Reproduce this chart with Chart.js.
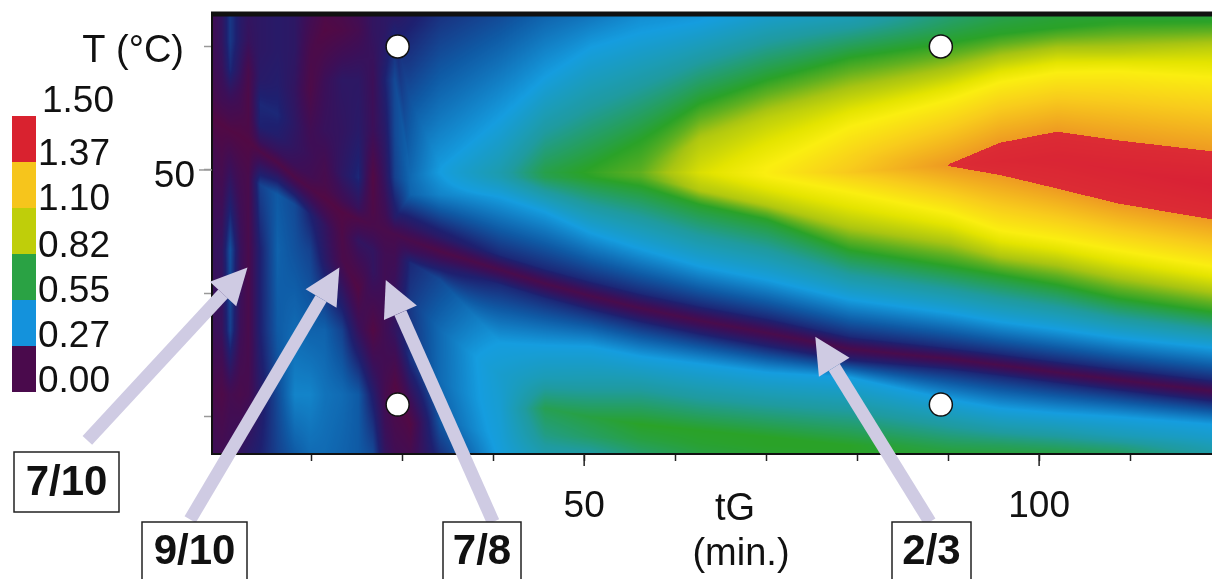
<!DOCTYPE html>
<html>
  <head>
    <title>tG / T resolution map</title>
    <script src="https://cdn.jsdelivr.net/npm/chart.js"></script>
    <style>
      body { margin: 0; background: #fff; }
      canvas { display: block; }
    </style>
  </head>
  <body>
    <canvas id="mapChart" width="1212" height="579"></canvas>

    <script>
      // resolution: one T list and one value list per tG column
      const tGColumns = [9.1, 10.2, 11.1, 12.2, 13.1, 14.4, 16.3, 18.2, 19.9, 21.5, 23.4, 25.2, 26.8, 28.1, 29.2, 30.9,
        34.2, 40.8, 45.7, 50.7, 56.2, 62.7, 70.1, 79.2, 90.2, 95.7, 102, 108.6, 119];

      const knotT = [
        [62.6,60.5,60.5,58.5,58.5,56.9,56.9,56.9,55.7,55.7,55.7,54.9,54.2,54.2,54.2,51.6,43.5,37,31.8,27],
        [62.6,60.5,60.5,58.5,58.5,56.9,56.9,56.9,55.7,55.7,55.7,54.6,53.7,53.7,53.7,51.2,43.5,37,31.8,27],
        [62.6,60.5,60.5,58.1,58.1,56.5,56.5,56.5,55.3,55.3,55.3,54,53.2,53.2,53.2,50.4,43.5,37,31.8,27],
        [62.6,60.5,60.5,58.1,58.1,56.1,56.1,56.1,54.9,54.9,54.9,53.6,52.8,52.8,52.8,49.8,43.5,37,31.8,27],
        [62.6,60.5,60.5,58.1,58.1,56.1,56.1,56.1,54.5,54.5,54.5,53.1,52.3,52.3,52.3,49.4,43.5,37,31.8,27],
        [62.6,59.7,59.7,57.3,57.3,55.3,55.3,55.3,53.6,53.6,53.6,52.3,51.5,51.5,51.5,48.8,43.5,37,31.8,27],
        [62.6,59.7,59.7,56.9,56.9,54.5,54.5,54.5,52.8,52.8,52.8,51.5,50.6,50.6,50.6,48,43.5,37,31.8,27],
        [62.6,59.7,59.7,56.5,56.5,53.6,53.6,53.6,51.8,51.8,51.8,50.4,49.4,49.4,49.4,47.2,43.5,37,31.8,27],
        [62.6,59.7,59.7,56.5,56.5,53.2,53.2,53.2,51.2,51.2,51.2,49.6,48.5,48.5,48.5,46.4,43.5,37,31.8,27],
        [62.6,61.3,61.3,57.3,57.3,53.2,53.2,53.2,50.4,50.4,50.4,48.8,47.7,47.7,47.7,45.5,42.7,37,31.8,27],
        [62.6,61.3,61.3,57.3,57.3,53.2,53.2,53.2,49.6,49.6,49.6,47.6,46.6,46.6,46.6,44.7,42.7,37,31.8,27],
        [62.6,61.3,61.3,57.3,57.3,53.2,53.2,53.2,49.4,49.4,49.4,46.9,46,46,46,44.3,40.3,37,31.8,27],
        [62.6,61.3,61.3,57.3,57.3,53.2,53.2,53.2,49.4,49.4,49.4,46.6,45.5,45.5,45.5,43.5,41.9,37,31.8,27],
        [62.6,61.3,61.3,57.3,57.3,53.2,53.2,53.2,49.4,49.4,49.4,46.4,45.1,45.1,45.1,43.1,40.7,37,31.8,27],
        [62.6,61.3,61.3,57.3,57.3,53.2,53.2,53.2,49.4,49.4,49.4,46.1,44.8,44.8,44.8,42.9,40.3,37,32.6,27],
        [62.6,55.7,49.9,49.8,49.8,49.7,49.6,49.5,49.4,49.3,49.2,48,45.5,44.3,43.5,42.5,39.5,34.6,29.4,27],
        [62.6,50.4,50.3,50.2,50.2,50,49.8,49.7,49.7,49.6,49.5,48,44.6,43.4,42.2,41.1,37,32.9,29.8,27],
        [62.6,54.2,50.2,50.1,50,49.9,49.8,49.7,49.6,49.5,49.4,47.8,43.1,41.9,40.7,36,33.4,30.6,28.5,27],
        [62.6,57.5,50.2,50.1,50,49.9,49.8,49.7,49.6,49.5,49.4,46.6,42,40.8,39.6,35.8,33.2,30.7,28.5,27],
        [62.6,59.9,50.2,50.1,50,49.9,49.8,49.7,49.6,49.5,49.4,44.9,41,39.8,38.6,35.7,32.8,30,28.4,27],
        [62.6,61.1,52.4,50,49.9,49.9,49.8,49.7,49.6,49.5,48.7,43.6,40,38.8,37.6,34.9,32.2,29.4,28.2,27],
        [62.6,62,55.4,52.4,50,49.9,49.8,49.7,49.6,48.4,47.2,42.2,39,37.8,36.6,34.3,31.5,28.9,27.9,27],
        [62.6,62.1,57.3,54.2,50.2,50,49.8,49.6,49.5,47.2,46,41.1,38,36.8,35.6,33.6,31,28.4,27.7,27],
        [62.6,61.8,59.1,55.7,53.5,51.2,49.8,49.2,48.2,45.5,43.5,39.5,36.5,35.5,34.5,33.2,30.5,27.7,27.3,27],
        [62.6,61.5,60.3,57.7,55.7,50.5,50.4,50.3,46.5,44.3,42.2,38.4,35.6,34.7,33.8,31.4,29.4,27.7,27.3,27],
        [62.6,62,61,58.8,57.1,52.2,50.7,49.6,45.1,43.1,41.5,37.7,35.1,34.2,33.3,30.7,29,27.7,27.3,27],
        [62.6,62.1,61.5,59.5,57.9,53.1,50.8,48.5,44.4,42.5,40.7,37.1,34.5,33.6,32.7,30.3,28.8,27.7,27.3,27],
        [62.6,62.3,61.8,59.5,58,52.4,50,47.3,43.5,41.5,39.6,36.4,33.9,33,32.1,30,28.5,27.7,27.3,27],
        [62.6,62.4,61.9,59.9,57.5,51.5,48.8,46,42.2,40.3,38.5,35.6,33,32.1,31.2,29.4,28.3,27.7,27.3,27]
      ];

      const knotRs = [
        [.05,.05,.05,.05,.05,.04,.04,.04,.03,.03,.03,.02,.01,.01,.01,.04,.07,.06,.03,.06],
        [.08,.08,.08,.07,.07,.06,.06,.06,.05,.05,.05,.03,.01,.01,.01,.03,.08,.07,.02,.05],
        [.15,.15,.15,.13,.13,.08,.08,.08,.05,.05,.05,.03,.01,.01,.01,.06,.18,.16,.04,.06],
        [.1,.1,.1,.08,.08,.05,.05,.05,.04,.04,.04,.02,.01,.01,.01,.04,.07,.06,.03,.08],
        [.08,.07,.07,.03,.03,.02,.02,.02,.02,.02,.02,.02,.01,.01,.01,.03,.03,.03,.04,.1],
        [.09,.09,.09,.1,.1,.13,.13,.13,.12,.12,.12,.07,.02,.02,.02,.16,.12,.12,.1,.12],
        [.1,.1,.1,.11,.11,.13,.13,.13,.11,.11,.11,.07,.02,.02,.02,.19,.2,.19,.17,.16],
        [.09,.09,.09,.08,.08,.09,.09,.09,.08,.08,.08,.06,.02,.02,.02,.17,.18,.21,.24,.19],
        [.05,.03,.03,.02,.02,.05,.05,.05,.06,.06,.06,.05,.02,.02,.02,.12,.16,.2,.24,.21],
        [.02,.01,.01,.06,.06,.07,.07,.07,.04,.04,.04,.03,.01,.01,.01,.08,.1,.2,.22,.21],
        [.03,.02,.02,.09,.09,.08,.08,.08,.09,.09,.09,.05,.01,.01,.01,.02,.03,.16,.21,.2],
        [.05,.04,.04,.09,.09,.1,.1,.1,.13,.13,.13,.07,.02,.02,.02,.08,.01,.07,.19,.19],
        [.08,.08,.08,.06,.06,.06,.06,.06,.01,.01,.01,.02,.03,.03,.03,.08,.08,.01,.11,.17],
        [.09,.09,.09,.12,.12,.1,.1,.1,.08,.08,.08,.05,.03,.03,.03,.05,.05,.05,.04,.08],
        [.09,.12,.12,.17,.17,.17,.17,.17,.16,.16,.16,.1,.03,.03,.03,.05,.07,.08,.01,.05],
        [.11,.18,.205,.205,.205,.206,.207,.207,.207,.207,.207,.2,.09,.03,.06,.13,.15,.14,.01,.04],
        [.14,.265,.266,.267,.268,.269,.27,.269,.268,.267,.265,.24,.1,.02,.1,.17,.21,.21,.19,.14],
        [.17,.27,.37,.372,.374,.376,.38,.376,.374,.372,.37,.27,.13,.03,.13,.27,.31,.3,.29,.28],
        [.2,.27,.5,.502,.504,.506,.51,.506,.504,.502,.5,.27,.13,.03,.13,.27,.36,.5,.44,.38],
        [.22,.27,.55,.552,.554,.556,.56,.556,.554,.552,.55,.27,.13,.03,.13,.27,.38,.52,.48,.4],
        [.25,.27,.55,.61,.612,.615,.62,.615,.612,.61,.55,.27,.13,.03,.13,.27,.41,.55,.52,.47],
        [.26,.27,.55,.72,.79,.795,.8,.795,.79,.72,.55,.27,.13,.03,.13,.27,.41,.55,.54,.52],
        [.3,.33,.55,.74,.9,.9,.905,.9,.9,.72,.55,.27,.13,.03,.13,.27,.41,.55,.55,.54],
        [.35,.39,.55,.76,.9,1.05,1.12,1.03,.9,.72,.55,.27,.13,.03,.13,.27,.41,.55,.55,.55],
        [.46,.5,.55,.74,.9,1.37,1.375,1.37,.9,.72,.55,.27,.13,.03,.13,.27,.4,.5,.52,.54],
        [.5,.52,.55,.74,.9,1.37,1.42,1.37,.9,.72,.55,.27,.13,.03,.13,.27,.39,.49,.51,.53],
        [.52,.54,.55,.74,.9,1.37,1.44,1.37,.9,.72,.55,.27,.13,.03,.13,.27,.38,.47,.5,.52],
        [.52,.54,.56,.74,.9,1.37,1.45,1.37,.9,.72,.55,.27,.13,.03,.13,.27,.36,.44,.47,.49],
        [.5,.53,.56,.74,.9,1.37,1.48,1.37,.9,.72,.55,.27,.13,.03,.13,.27,.32,.36,.38,.4]
      ];

      const pointsTG = [29.5, 89.2, 29.5, 89.2];
      const pointsT = [60, 60, 31, 31];

      const xTicks = [20, 30, 40, 50, 60, 70, 80, 90, 100, 110];
      const yTicks = [60, 50, 40, 30];
      const xLabelled = [50, 100];
      const yLabelled = [50];

      const legendLabels = ['1.50', '1.37', '1.10', '0.82', '0.55', '0.27', '0.00'];
      const legendColors = ['#d9222f', '#f6c51c', '#bfce0a', '#2aa244', '#1492dc', '#4a0a4c'];

      const rampValues = [0, .06, .12, .19, .27, .41, .55, .62, .70, .82, .90, 1.10, 1.369, 1.37, 1.5];
      const rampColors = ['#560840', '#3c0f58', '#1e2070', '#0f5aa5', '#159ddf', '#1f9b9f', '#2aa228', '#60b020', '#a8c412',
        '#e4e400', '#faee10', '#f8cc1c', '#ee9a22', '#dc2c34', '#d81f35'];

      const arrowLabels = ['7/10', '9/10', '7/8', '2/3'];
      const arrowTipTG = [13, 23.1, 28.2, 75.4];
      const arrowTipT = [42.1, 42.1, 41.1, 36.5];
      const arrowTailTG = [-4.6, 6.7, 40, 88];
      const arrowTailT = [28.1, 21.7, 21.5, 21.5];

      const rgb = hex => [1, 3, 5].map(i => parseInt(hex.substr(i, 2), 16));
      const lut = [];
      for (let i = 0; i <= 1500; i++) {
        const v = i / 1000;
        let s = 0;
        while (s < rampValues.length - 2 && v > rampValues[s + 1]) s++;
        const f = Math.min(1, (v - rampValues[s]) / (rampValues[s + 1] - rampValues[s]));
        const a = rgb(rampColors[s]), b = rgb(rampColors[s + 1]);
        lut.push(a.map((c, j) => c + (b[j] - c) * f));
      }

      const mapPaint = {
        id: 'mapPaint',
        beforeDatasetsDraw(chart) {
          const { ctx, chartArea, scales: { x, y } } = chart;
          const nKnots = knotT[0].length;
          const cells = chart.data.datasets[1].data;
          const w = Math.round(chartArea.width), h = Math.round(chartArea.height);
          const off = document.createElement('canvas');
          off.width = w; off.height = h;
          const octx = off.getContext('2d');
          const img = octx.createImageData(w, h);
          const tRow = new Float64Array(nKnots), vRow = new Float64Array(nKnots);
          for (let px = 0; px < w; px++) {
            const tg = x.getValueForPixel(chartArea.left + px + 0.5);
            let c = 0;
            while (c < tGColumns.length - 2 && tg > tGColumns[c + 1]) c++;
            const f = Math.max(0, Math.min(1, (tg - tGColumns[c]) / (tGColumns[c + 1] - tGColumns[c])));
            for (let k = 0; k < nKnots; k++) {
              const a = cells[c * nKnots + k], b = cells[(c + 1) * nKnots + k];
              tRow[k] = a.y + (b.y - a.y) * f;
              vRow[k] = a.v + (b.v - a.v) * f;
            }
            let k = 0;
            for (let py = 0; py < h; py++) {
              const T = y.getValueForPixel(chartArea.top + py + 0.5);
              while (k < nKnots - 2 && T < tRow[k + 1]) k++;
              const span = tRow[k] - tRow[k + 1];
              const g = span > 0 ? Math.max(0, Math.min(1, (tRow[k] - T) / span)) : 1;
              const v = vRow[k] + (vRow[k + 1] - vRow[k]) * g;
              const col = lut[Math.max(0, Math.min(1500, Math.round(v * 1000)))];
              const o = (py * w + px) * 4;
              img.data[o] = col[0]; img.data[o + 1] = col[1]; img.data[o + 2] = col[2]; img.data[o + 3] = 255;
            }
          }
          octx.putImageData(img, 0, 0);
          ctx.drawImage(off, chartArea.left, chartArea.top, chartArea.width, chartArea.height);

          // frame: heavy on top, thin left and bottom
          ctx.save();
          ctx.strokeStyle = '#111';
          ctx.lineWidth = 5;
          ctx.beginPath(); ctx.moveTo(chartArea.left - 1, chartArea.top); ctx.lineTo(chartArea.right, chartArea.top); ctx.stroke();
          ctx.lineWidth = 2;
          ctx.beginPath();
          ctx.moveTo(chartArea.left, chartArea.top);
          ctx.lineTo(chartArea.left, chartArea.bottom);
          ctx.lineTo(chartArea.right, chartArea.bottom);
          ctx.stroke();
          // labelled ticks run longer
          ctx.lineWidth = 1.5;
          ctx.strokeStyle = '#222';
          xLabelled.forEach(v => {
            const p = x.getPixelForValue(v);
            ctx.beginPath(); ctx.moveTo(p, chartArea.bottom); ctx.lineTo(p, chartArea.bottom + 12); ctx.stroke();
          });
          ctx.strokeStyle = '#999';
          yLabelled.forEach(v => {
            const p = y.getPixelForValue(v);
            ctx.beginPath(); ctx.moveTo(chartArea.left, p); ctx.lineTo(chartArea.left - 13, p); ctx.stroke();
          });
          ctx.restore();
        },
        afterDraw(chart) {
          const { ctx, scales: { x, y } } = chart;
          ctx.save();
          // arrows
          ctx.fillStyle = ctx.strokeStyle = '#cfcbe3';
          arrowLabels.forEach((_, i) => {
            const x1 = x.getPixelForValue(arrowTailTG[i]), y1 = y.getPixelForValue(arrowTailT[i]);
            const x2 = x.getPixelForValue(arrowTipTG[i]), y2 = y.getPixelForValue(arrowTipT[i]);
            const a = Math.atan2(y2 - y1, x2 - x1);
            const bx = x2 - Math.cos(a) * 36, by = y2 - Math.sin(a) * 36;
            ctx.lineWidth = 13;
            ctx.beginPath(); ctx.moveTo(x1, y1); ctx.lineTo(bx, by); ctx.stroke();
            ctx.beginPath();
            ctx.moveTo(x2, y2);
            ctx.lineTo(bx - Math.sin(a) * 18, by + Math.cos(a) * 18);
            ctx.lineTo(bx + Math.sin(a) * 18, by - Math.cos(a) * 18);
            ctx.closePath(); ctx.fill();
          });

          // boxed ratio labels
          const boxes = [[14, 452, 105, 60], [142, 522, 105, 58], [443, 522, 78, 58], [892, 522, 79, 58]];
          ctx.font = 'bold 42px "Liberation Sans"';
          ctx.textAlign = 'center';
          ctx.textBaseline = 'middle';
          arrowLabels.forEach((t, i) => {
            const b = boxes[i];
            ctx.fillStyle = '#fff';
            ctx.fillRect(b[0], b[1], b[2], b[3]);
            ctx.strokeStyle = '#222';
            ctx.lineWidth = 1.5;
            ctx.strokeRect(b[0], b[1], b[2], b[3]);
            ctx.fillStyle = '#111';
            ctx.fillText(t, b[0] + b[2] / 2, i === 0 ? 483 : 552);
          });

          // axis names
          ctx.font = '38px "Liberation Sans"';
          ctx.fillText('tG', 735, 510);
          ctx.fillText('(min.)', 741, 555);
          ctx.textAlign = 'right';
          ctx.fillText('T (°C)', 184, 52);

          // colour key
          const keyTop = 116, keyStep = 46;
          legendColors.forEach((c, i) => {
            ctx.fillStyle = c;
            ctx.fillRect(12, keyTop + i * keyStep, 24, keyStep);
          });
          ctx.fillStyle = '#111';
          ctx.textAlign = 'left';
          ctx.font = '37px "Liberation Sans"';
          const keyY = [102, 155, 200, 247, 292, 337, 382];
          legendLabels.forEach((t, i) => ctx.fillText(t, i === 0 ? 42 : 38, keyY[i]));
          ctx.restore();
        }
      };

      const cells = [];
      tGColumns.forEach((tg, c) => knotT[c].forEach((T, k) => cells.push({ x: tg, y: T, v: knotRs[c][k] })));

      const noPadding = s => { s.paddingLeft = s.paddingRight = s.paddingTop = s.paddingBottom = 0; };

      new Chart(document.getElementById('mapChart'), {
        type: 'scatter',
        data: {
          datasets: [
            {
              label: 'points',
              data: pointsTG.map((v, i) => ({ x: v, y: pointsT[i] })),
              pointRadius: 11.5,
              pointBackgroundColor: '#fff',
              pointBorderColor: '#111',
              pointBorderWidth: 1.5,
              clip: false
            },
            { label: 'Rs', data: cells, pointRadius: 0 }
          ]
        },
        options: {
          responsive: false,
          animation: false,
          layout: { autoPadding: false, padding: { top: 14, right: 0, bottom: 0, left: 0 } },
          plugins: { legend: { display: false }, tooltip: { enabled: false } },
          scales: {
            x: {
              type: 'linear',
              min: 9.1,
              max: 119,
              afterBuildTicks: s => { s.ticks = xTicks.map(value => ({ value })); },
              afterFit: s => { s.height = 125; noPadding(s); },
              grid: { drawOnChartArea: false, tickLength: 7, tickColor: '#222', tickWidth: 1.5 },
              border: { display: false },
              ticks: {
                autoSkip: false,
                maxRotation: 0,
                padding: 24,
                color: '#111',
                font: { family: 'Liberation Sans', size: 37 },
                callback: v => (xLabelled.includes(v) ? String(v) : '')
              }
            },
            y: {
              type: 'linear',
              min: 27,
              max: 62.63,
              afterBuildTicks: s => { s.ticks = yTicks.map(value => ({ value })); },
              afterFit: s => { s.width = 212; noPadding(s); },
              grid: { drawOnChartArea: false, tickLength: 8, tickColor: '#999', tickWidth: 1.5 },
              border: { display: false },
              ticks: {
                autoSkip: false,
                padding: 9,
                labelOffset: 7,
                color: '#111',
                font: { family: 'Liberation Sans', size: 37 },
                callback: v => (yLabelled.includes(v) ? String(v) : '')
              }
            }
          }
        },
        plugins: [mapPaint]
      });
    </script>
  </body>
</html>
